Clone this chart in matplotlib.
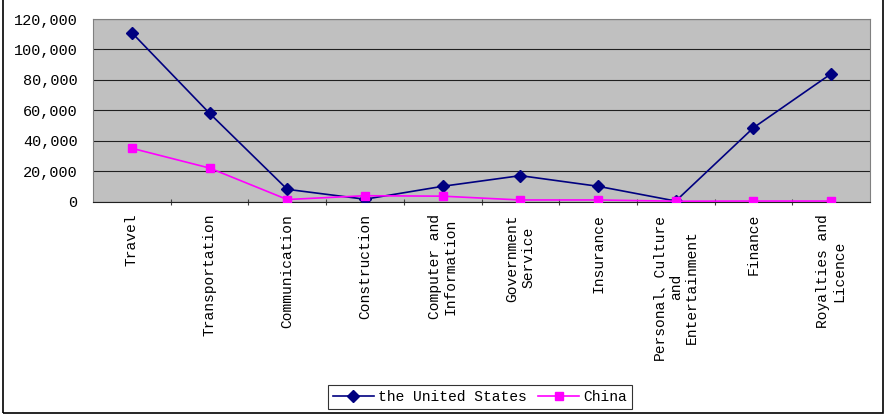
import matplotlib
matplotlib.use("Agg")
import matplotlib.pyplot as plt
import matplotlib.ticker as ticker
from matplotlib.patches import Rectangle

# categories and values
categories = ["Travel", "Transportation", "Communication", "Construction",
              "Computer and\nInformation", "Government\nService", "Insurance",
              "Personal\u3001Culture\nand\nEntertainment", "Finance",
              "Royalties and\nLicence"]
us_values = [111000, 58000, 8000, 1500, 10000, 17000, 10000, 300, 48500, 84000]
china_values = [35000, 22000, 1300, 3800, 3500, 1000, 1000, 200, 300, 300]
y_ticks = [0, 20000, 40000, 60000, 80000, 100000, 120000]

font = ["Liberation Mono", "Noto Sans CJK SC", "DejaVu Sans"]
plt.rcParams["font.family"] = font

fig = plt.figure(figsize=(8.93, 4.2), dpi=100)
ax = fig.add_axes([93 / 893, 1 - 201.5 / 420, 777 / 893, 182.5 / 420])
ax.set_facecolor("#C0C0C0")

x = list(range(len(categories)))
ax.plot(x, us_values, color="#000080", marker="D", markersize=6.5,
        linewidth=1.2, label="the United States", zorder=3)
ax.plot(x, china_values, color="#FF00FF", marker="s", markersize=6,
        linewidth=1.2, label="China", zorder=3)

ax.set_xlim(-0.5, len(categories) - 0.5)
ax.set_ylim(0, 120000)
ax.set_yticks(y_ticks)
ax.yaxis.set_major_formatter(ticker.FuncFormatter(lambda v, p: "{:,}".format(int(v))))
ax.tick_params(axis="y", length=0, labelsize=11, pad=11)
ax.yaxis.grid(True, color="#202020", linewidth=0.8)
ax.set_axisbelow(True)

# category labels centred, ticks on the boundaries
ax.set_xticks([i + 0.5 for i in range(len(categories) - 1)])
ax.set_xticklabels([])
ax.tick_params(axis="x", direction="inout", length=5, color="#404040")
ax.set_xticks(x, minor=True)
ax.set_xticklabels(categories, minor=True, rotation=90, ha="center", va="top",
                   multialignment="center", fontsize=10.5)
ax.tick_params(axis="x", which="minor", length=0, pad=9)

for side in ["top", "right", "left"]:
    ax.spines[side].set_color("#808080")
ax.spines["bottom"].set_color("#202020")

leg = fig.legend(loc="center", bbox_to_anchor=(480 / 893, 1 - 397 / 420),
                 ncol=2, fontsize=10.5, frameon=True, fancybox=False,
                 edgecolor="#000000", handlelength=2.8, handletextpad=0.3,
                 columnspacing=0.8, borderpad=0.35)
leg.get_frame().set_linewidth(0.8)

fig.patches.append(Rectangle((3 / 893, 7 / 420), 880 / 893, 420 / 420,
                             transform=fig.transFigure, fill=False,
                             edgecolor="#000000", linewidth=1.2))

fig.savefig("out.png", dpi=100)
